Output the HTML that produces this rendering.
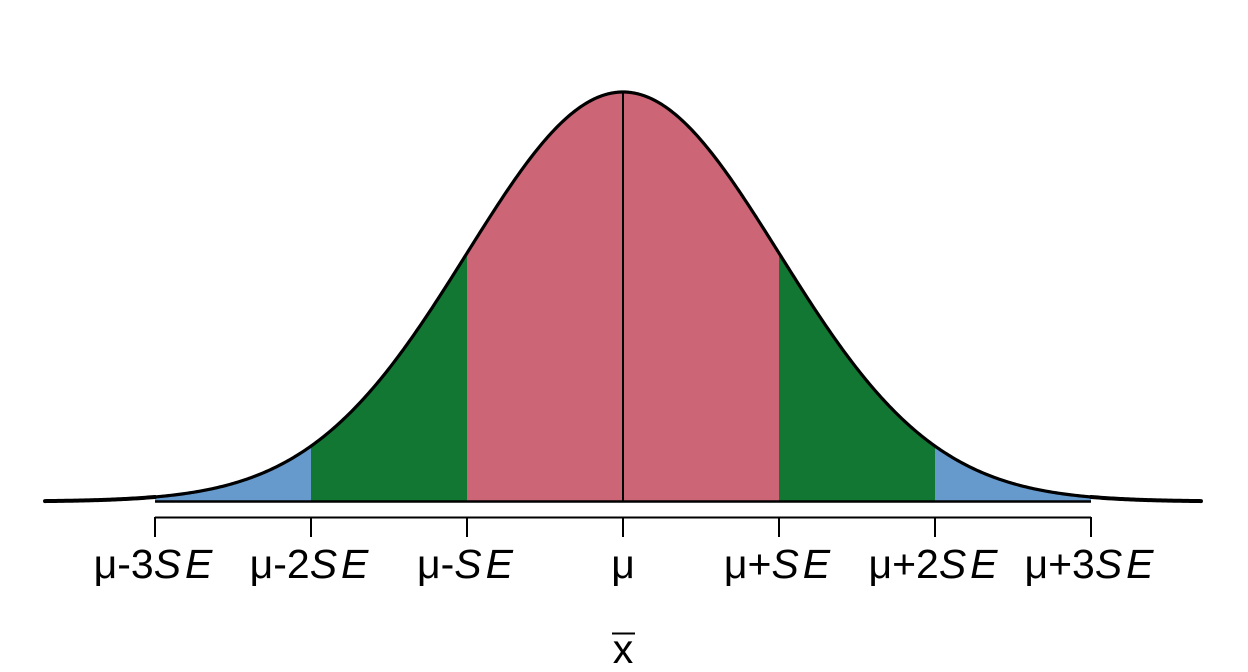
<!DOCTYPE html>
<html>
<head>
<meta charset="utf-8">
<style>
  html, body { margin: 0; padding: 0; background: #ffffff; }
  svg { display: block; }
  text { font-family: "Liberation Sans", "DejaVu Sans", sans-serif; font-size: 41px; fill: #000; }
</style>
</head>
<body>
<svg id="chart" width="1248" height="672" viewBox="0 0 1248 672" xmlns="http://www.w3.org/2000/svg">
  <g id="fills"></g>
  <line x1="155" y1="501.5" x2="1091" y2="501.5" stroke="#000" stroke-width="2.5"/>
  <path id="curve" d="" fill="none" stroke="#000" stroke-width="3.2" stroke-linecap="round" stroke-linejoin="round"/>
  <path id="tails" d="" fill="none" stroke="#000" stroke-width="4" stroke-linecap="round" stroke-linejoin="round"/>
  <line x1="623" y1="92" x2="623" y2="501" stroke="#000" stroke-width="2"/>
  <!-- axis -->
  <line x1="155" y1="517.5" x2="1091" y2="517.5" stroke="#000" stroke-width="2"/>
  <g stroke="#000" stroke-width="2">
    <line x1="155" y1="517" x2="155" y2="537"/>
    <line x1="311" y1="517" x2="311" y2="537"/>
    <line x1="467" y1="517" x2="467" y2="537"/>
    <line x1="623" y1="517" x2="623" y2="537"/>
    <line x1="779" y1="517" x2="779" y2="537"/>
    <line x1="935" y1="517" x2="935" y2="537"/>
    <line x1="1091" y1="517" x2="1091" y2="537"/>
  </g>
  <g text-anchor="middle">
    <text x="155" y="578">μ-3<tspan font-style="italic" letter-spacing="4">SE</tspan></text>
    <text x="311" y="578">μ-2<tspan font-style="italic" letter-spacing="4">SE</tspan></text>
    <text x="467" y="578">μ-<tspan font-style="italic" letter-spacing="4">SE</tspan></text>
    <text x="623" y="578">μ</text>
    <text x="779" y="578">μ+<tspan font-style="italic" letter-spacing="4">SE</tspan></text>
    <text x="935" y="578">μ+2<tspan font-style="italic" letter-spacing="4">SE</tspan></text>
    <text x="1091" y="578">μ+3<tspan font-style="italic" letter-spacing="4">SE</tspan></text>
    <text x="623" y="663">x</text>
  </g>
  <line x1="612" y1="633.5" x2="635" y2="633.5" stroke="#000" stroke-width="2"/>
</svg>
<script>
(function(){
  var cx = 623, se = 156, base = 501.5, amp = 409.5;
  function Y(x){ var z = (x - cx) / se; return base - amp * Math.exp(-0.5 * z * z); }
  function region(a, b, color){
    var x0 = cx + a * se, x1 = cx + b * se;
    var d = "M" + x0.toFixed(2) + "," + base;
    var n = 120;
    for (var i = 0; i <= n; i++){
      var x = x0 + (x1 - x0) * i / n;
      d += " L" + x.toFixed(2) + "," + Y(x).toFixed(2);
    }
    d += " L" + x1.toFixed(2) + "," + base + " Z";
    var p = document.createElementNS("http://www.w3.org/2000/svg", "path");
    p.setAttribute("d", d);
    p.setAttribute("fill", color);
    p.setAttribute("stroke", "none");
    document.getElementById("fills").appendChild(p);
  }
  region(-3, -2, "#6699CC");
  region(2, 3, "#6699CC");
  region(-2, -1, "#117733");
  region(1, 2, "#117733");
  region(-1, 1, "#CC6677");
  function seg(a, b, n){
    var d = "";
    for (var i = 0; i <= n; i++){
      var x = a + (b - a) * i / n;
      d += (i === 0 ? "M" : " L") + x.toFixed(2) + "," + Y(x).toFixed(2);
    }
    return d;
  }
  var xs = cx - 3.705 * se, xe = cx + 3.705 * se;
  document.getElementById("curve").setAttribute("d", seg(xs, xe, 600));
  document.getElementById("tails").setAttribute("d",
    seg(xs, cx - 3.0 * se, 60) + " " + seg(cx + 3.0 * se, xe, 60));
})();
</script>
</body>
</html>
